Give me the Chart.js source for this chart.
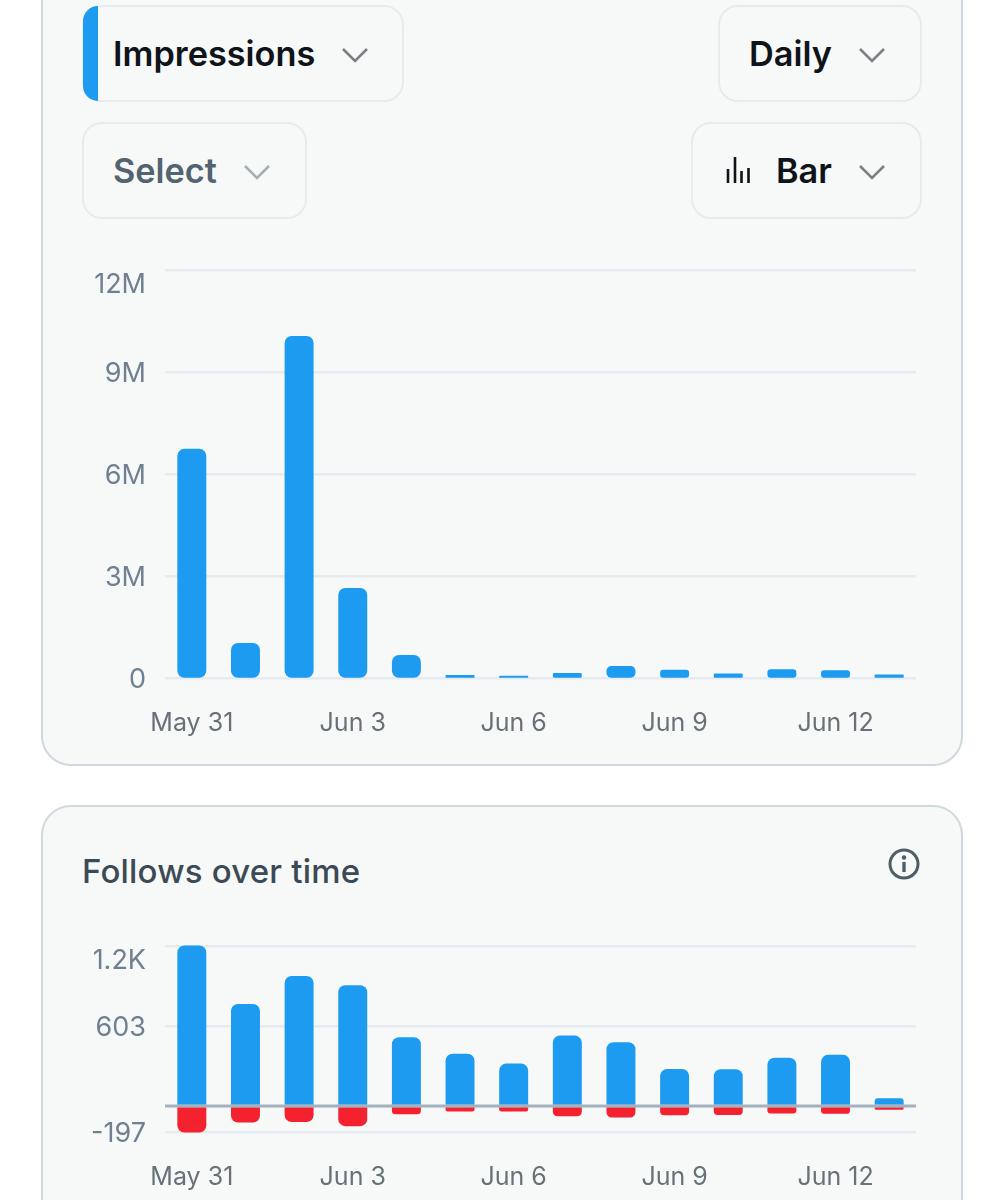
<!DOCTYPE html>
<html>
<head>
<meta charset="utf-8">
<script src="https://cdn.jsdelivr.net/npm/chart.js@4"></script>
<style>
html, body { margin: 0; padding: 0; background: #fff; }
body { position: relative; width: 1004px; height: 1200px; overflow: hidden; font-family: Inter, sans-serif; }
.card { position: absolute; left: 41px; width: 918px; background: #f7f9f9; border: 2px solid #cfd9de; border-radius: 30px; box-sizing: content-box; }
.box { position: absolute; box-sizing: border-box; height: 97px; background: #f7f9f9; border: 2px solid #e7ebed; border-radius: 20px; }
.txt { position: absolute; font-size: 34.300px; font-weight: 600; color: #0f1419; line-height: 40px; white-space: nowrap; }
.blue { position: absolute; left: 83px; top: 6px; width: 15px; height: 95px; background: #1d9bf0; border-radius: 15px 0 0 15px; }
svg { position: absolute; overflow: visible; }
canvas { position: absolute; }
</style>
</head>
<body>
<div class="card" style="top:-40px;height:802px"></div>
<div class="card" style="top:805px;height:500px"></div>

<div class="box" style="left:82px;top:5px;width:322px"></div>
<div class="blue"></div>
<div class="txt" style="left:113px;top:34px">Impressions</div>
<svg style="left:341px;top:47px" width="28" height="16"><path d="M2 2 L14 14 L26 2" fill="none" stroke="#7b8085" stroke-width="2.6"/></svg>

<div class="box" style="left:718px;top:5px;width:204px"></div>
<div class="txt" style="left:749px;top:34px">Daily</div>
<svg style="left:858px;top:47px" width="28" height="16"><path d="M2 2 L14 14 L26 2" fill="none" stroke="#7b8085" stroke-width="2.6"/></svg>

<div class="box" style="left:82px;top:122px;width:225px"></div>
<div class="txt" style="left:113px;top:151px;color:#536471">Select</div>
<svg style="left:243px;top:164px" width="28" height="16"><path d="M2 2 L14 14 L26 2" fill="none" stroke="#a3aeb6" stroke-width="2.6"/></svg>

<div class="box" style="left:691px;top:122px;width:231px"></div>
<svg style="left:726px;top:157px" width="24" height="27"><path d="M2 12 V26 M9 0 V26 M15.500 14 V26 M22.500 11 V26" fill="none" stroke="#0f1419" stroke-width="2.6"/></svg>
<div class="txt" style="left:776px;top:151px">Bar</div>
<svg style="left:858px;top:164px" width="28" height="16"><path d="M2 2 L14 14 L26 2" fill="none" stroke="#7b8085" stroke-width="2.6"/></svg>

<div class="txt" style="left:82px;top:851px;font-size:33px;font-weight:500;color:#3c4a56;letter-spacing:0.2px">Follows over time</div>
<svg style="left:888px;top:848px" width="32" height="32"><circle cx="16" cy="16" r="14" fill="none" stroke="#4f5d69" stroke-width="3"/><circle cx="16" cy="9.500" r="2.200" fill="#4f5d69"/><path d="M16 14 V24" stroke="#4f5d69" stroke-width="3.400" fill="none"/></svg>

<canvas id="impressionsChart" width="870" height="540" style="left:60px;top:210px"></canvas>
<canvas id="followsChart" width="870" height="314" style="left:60px;top:890px"></canvas>

<script>
const days = ['May 31', 'Jun 1', 'Jun 2', 'Jun 3', 'Jun 4', 'Jun 5', 'Jun 6', 'Jun 7', 'Jun 8', 'Jun 9', 'Jun 10', 'Jun 11', 'Jun 12', 'Jun 13'];
const impressions = [6710000, 1000000, 10030000, 2620000, 650000, 60000, 40000, 120000, 320000, 210000, 100000, 230000, 200000, 70000];
const impressionTicks = [0, 3000000, 6000000, 9000000, 12000000];
const impressionLabels = ['0', '3M', '6M', '9M', ['', '12M']];
const follows = [1210, 769, 980, 910, 518, 394, 319, 530, 480, 279, 277, 364, 385, 58];
const unfollows = [-201, -126, -122, -153, -63, -43, -43, -78, -88, -70, -68, -58, -60, -30];
const followTicks = [-197, 0, 603, 1206];
const followLabels = ['-197', '', '603', ['', '1.2K']];

const BLUE = '#1d9bf0';
const RED = '#f4212e';
const GRID = '#e5ebf1';

// x labels only every third day
const xScale = () => ({
    stacked: true,
    grid: { display: false },
    border: { display: false },
    afterFit: scale => { scale.height = 72; },
    ticks: {
        autoSkip: false,
        maxRotation: 0,
        padding: 22,
        color: '#687078',
        font: { family: 'Inter', size: 25, lineHeight: 1.2 },
        callback: function (value, index) { return index % 3 === 0 ? days[index] : ''; }
    }
});

const yScale = (min, max, values, labels) => ({
    min,
    max,
    stacked: true,
    border: { display: false },
    grid: { color: GRID, lineWidth: 2.5, drawTicks: false },
    afterFit: scale => { scale.width = 105; },
    afterBuildTicks: scale => { scale.ticks = values.map(value => ({ value })); },
    ticks: {
        autoSkip: false,
        padding: 19,
        labelOffset: 2,
        color: '#708090',
        // top label sits below its grid line, second line of the label does that
        font: { family: 'Inter', size: 27, lineHeight: '26px' },
        callback: function (value) { return labels[values.indexOf(value)]; }
    }
});

const baseOptions = (topPadding, y) => ({
    responsive: false,
    animation: false,
    layout: { padding: { top: topPadding, right: 14, left: 0, bottom: 0 } },
    plugins: { legend: { display: false }, tooltip: { enabled: false } },
    scales: { x: xScale(), y }
});

const impressionsChart = new Chart(document.getElementById('impressionsChart'), {
    type: 'bar',
    data: {
        labels: days,
        datasets: [{
            label: 'Impressions',
            data: impressions,
            backgroundColor: BLUE,
            barPercentage: 0.503,
            categoryPercentage: 1,
            borderRadius: 7,
            borderSkipped: false,
            inflateAmount: 1,
            clip: false
        }]
    },
    options: baseOptions(60, yScale(0, 12000000, impressionTicks, impressionLabels))
});

// Line at zero goes over the bars in the follows chart
const zeroLine = {
    id: 'zeroLine',
    afterDatasetsDraw(chart) {
        const { ctx, chartArea, scales } = chart;
        const y = scales.y.getPixelForValue(0);
        ctx.save();
        ctx.strokeStyle = 'rgba(160, 174, 187, 0.95)';
        ctx.lineWidth = 3;
        ctx.beginPath();
        ctx.moveTo(chartArea.left, y);
        ctx.lineTo(chartArea.right, y);
        ctx.stroke();
        ctx.restore();
    }
};

const followsChart = new Chart(document.getElementById('followsChart'), {
    type: 'bar',
    data: {
        labels: days,
        datasets: [{
            label: 'Follows',
            data: follows,
            backgroundColor: BLUE,
            barPercentage: 0.54,
            categoryPercentage: 1,
            borderRadius: { topLeft: 7, topRight: 7 },
            clip: false
        }, {
            label: 'Unfollows',
            data: unfollows,
            backgroundColor: RED,
            barPercentage: 0.54,
            categoryPercentage: 1,
            borderRadius: { bottomLeft: 7, bottomRight: 7 },
            clip: false
        }]
    },
    options: baseOptions(56, yScale(-197, 1206, followTicks, followLabels)),
    plugins: [zeroLine]
});
</script>
</body>
</html>
